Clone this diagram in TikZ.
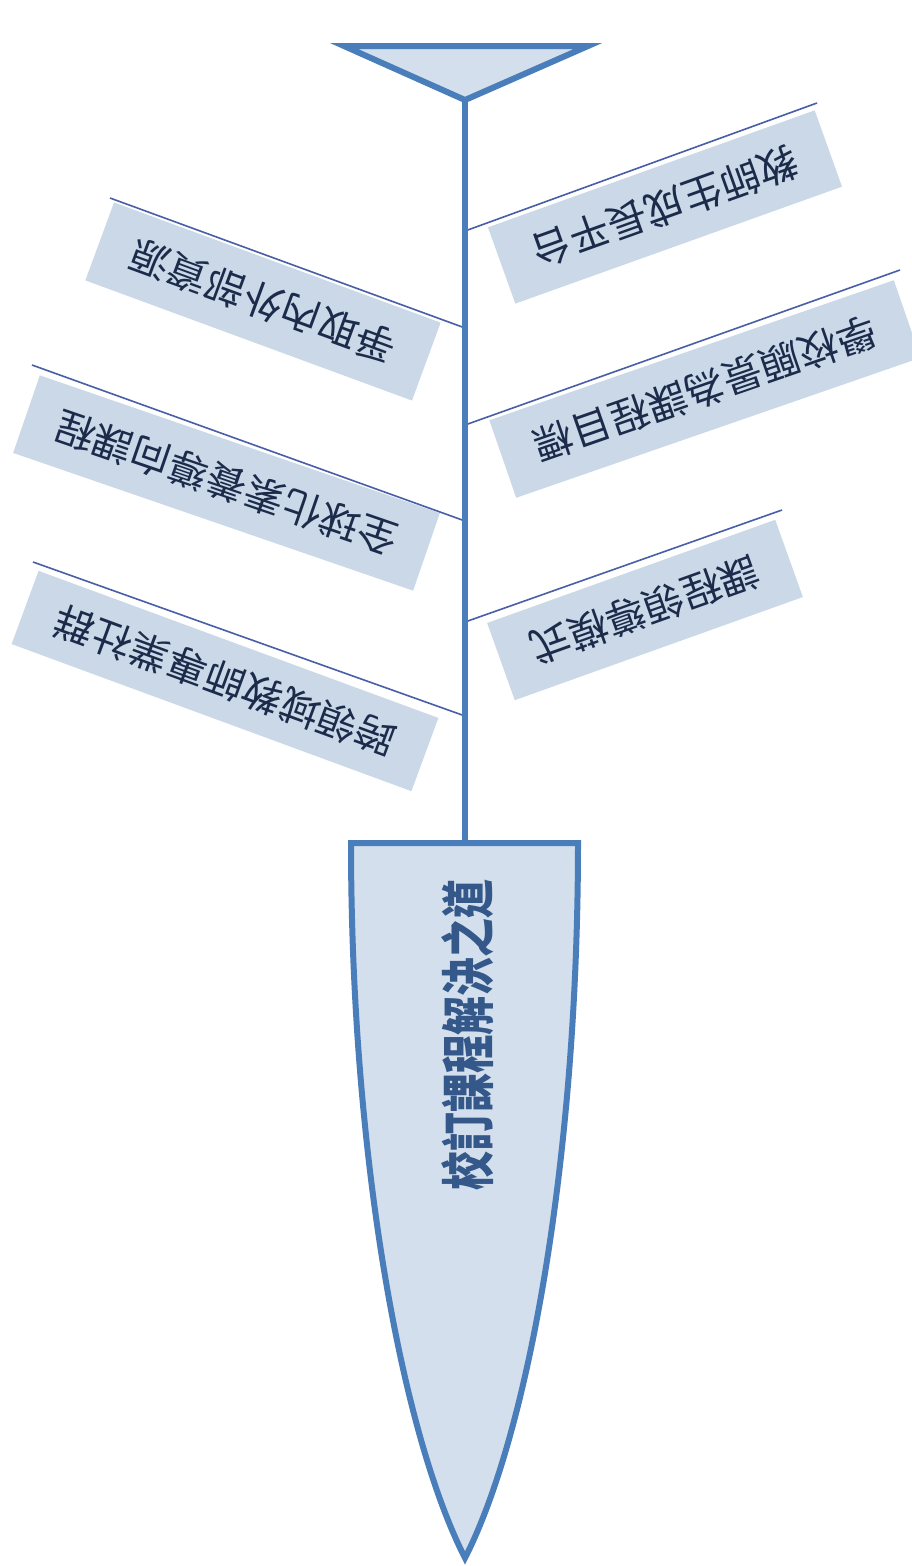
\documentclass[tikz,border=0pt]{standalone}
\usepackage{fontspec}
\newfontfamily\tcfont{Noto Sans CJK TC}
\definecolor{spineblue}{RGB}{74,126,187}
\definecolor{headfill}{RGB}{211,223,237}
\definecolor{boxfill}{RGB}{202,216,232}
\definecolor{boneline}{RGB}{72,95,168}
\definecolor{labeltext}{RGB}{28,43,74}
\definecolor{maintext}{RGB}{52,88,138}
\tikzset{
  spineline/.style={draw=spineblue, line width=6pt},
  headshape/.style={draw=spineblue, fill=headfill, line width=6pt, line join=miter},
  boneln/.style={draw=boneline, line width=1.6pt},
  bonebox/.style={fill=boxfill, draw=none, inner sep=0pt, text=labeltext,
    font=\tcfont\fontsize{40}{40}\selectfont},
  mainlabel/.style={inner sep=0pt, text=maintext}
}
\begin{document}
\begin{tikzpicture}[x=1pt,y=-1pt]
\useasboundingbox (0,0) rectangle (911,1566);
\fill[white] (0,0) rectangle (911,1566);

% label boxes
\node[bonebox, minimum width=347pt, minimum height=81pt, rotate=199.7] (r1) at (665,207) {教師生成長平台};
\node[bonebox, minimum width=428pt, minimum height=82pt, rotate=199.1] (r2) at (705,389) {學校願景為課程目標};
\node[bonebox, minimum width=306pt, minimum height=82pt, rotate=199.7] (r3) at (645,610) {課程領導模式};
\node[bonebox, minimum width=348pt, minimum height=83pt, rotate=159.8] (l1) at (263,301.5) {爭取內外部資源};
\node[bonebox, minimum width=423pt, minimum height=82pt, rotate=161.0] (l2) at (226.5,483) {全球化素養導向課程};
\node[bonebox, minimum width=426pt, minimum height=78pt, rotate=159.8] (l3) at (225,681) {跨領域教師專業社群};

% bone coordinates
\coordinate (sr1) at (465,231);  \coordinate (er1) at (817,103);
\coordinate (sr2) at (465,425);  \coordinate (er2) at (900,270);
\coordinate (sr3) at (465,622);  \coordinate (er3) at (782,510);
\coordinate (sl1) at (465,328);  \coordinate (el1) at (110,198);
\coordinate (sl2) at (465,521);  \coordinate (el2) at (32,365);
\coordinate (sl3) at (465,716);  \coordinate (el3) at (33,562);

\draw[boneln] (sr1) -- (er1);
\draw[boneln] (sr2) -- (er2);
\draw[boneln] (sr3) -- (er3);
\draw[boneln] (sl1) -- (el1);
\draw[boneln] (sl2) -- (el2);
\draw[boneln] (sl3) -- (el3);

% tail triangle and head
\coordinate (tl) at (344,46);
\coordinate (tr) at (588,46);
\coordinate (apex) at (465,100);
\coordinate (hl) at (351,843);
\coordinate (hr) at (578,843);
\coordinate (tip) at (465,1558);
\coordinate (headtop) at (465,843);

\draw[spineline] (apex) -- (headtop);
\filldraw[headshape] (tl) -- (tr) -- (apex) -- cycle;
\filldraw[headshape] (hl) -- (hr) .. controls (578,1150) and (530,1430) .. (tip)
   .. controls (400,1430) and (351,1150) .. (hl) -- cycle;

\node[mainlabel, rotate=90] (main) at (468,1035)
  {\scalebox{0.72}[1]{\tcfont\fontsize{54}{54}\selectfont\bfseries 校訂課程解決之道}};
\end{tikzpicture}
\end{document}
